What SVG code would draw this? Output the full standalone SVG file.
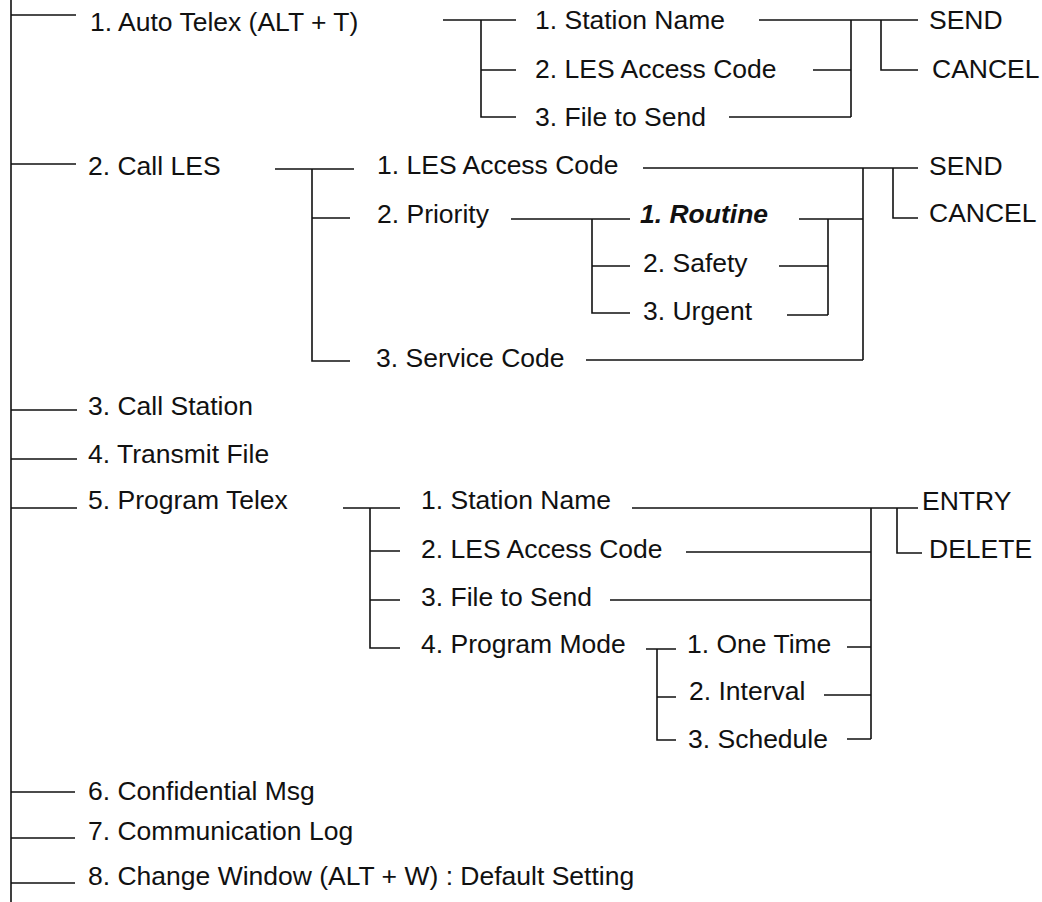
<svg xmlns="http://www.w3.org/2000/svg" width="1042" height="902" viewBox="0 0 1042 902">
<style>
.t{font-family:"Liberation Sans",Arial,sans-serif;font-size:26.5px;fill:#111}
.bi{font-weight:bold;font-style:italic}
.ln{fill:none;stroke:#111;stroke-width:1.6}
</style>
<rect width="1042" height="902" fill="#fff"/>
<g id="connectors">
<path class="ln" d="M11 0V902 M11 15H76 M11 164H76 M11 410H77 M11 459H77 M11 508H77 M11 792H75 M11 838H75 M11 883H75
M443 20H516 M481 20V117H516 M481 70H516
M759 20H918 M813 70H851 M729 117H851 M851 20V117 M881 20V70H918
M275 169H354 M312 169V361H350 M312 218H350
M643 168H918 M863 168V360 M893 168V218H918
M511 219H630 M592 219V313H630 M592 266H630
M799 219H863 M828 219V315 M779 266H828 M787 315H828
M586 360H863
M343 508H400 M370 508V648H400 M370 551H400 M370 600H400
M632 508H918 M686 552H871 M610 600H871 M871 508V739 M897 508V553H922
M646 649H676 M657 649V740H676 M657 697H676
M847 647H871 M824 695H871 M847 739H871"/>
</g>
<g id="auto-telex"><text class="t" x="90" y="31">1. Auto Telex (ALT + T)</text></g>
<g id="at-station-name"><text class="t" x="535" y="29">1. Station Name</text></g>
<g id="at-les-access-code"><text class="t" x="535" y="78">2. LES Access Code</text></g>
<g id="at-file-to-send"><text class="t" x="535" y="126">3. File to Send</text></g>
<g id="at-send"><text class="t" x="929" y="29">SEND</text></g>
<g id="at-cancel"><text class="t" x="932" y="78">CANCEL</text></g>
<g id="call-les"><text class="t" x="88" y="175">2. Call LES</text></g>
<g id="cl-les-access-code"><text class="t" x="377" y="174">1. LES Access Code</text></g>
<g id="cl-priority"><text class="t" x="377" y="223">2. Priority</text></g>
<g id="cl-service-code"><text class="t" x="376" y="367">3. Service Code</text></g>
<g id="pr-routine"><text class="t bi" x="640" y="223">1. Routine</text></g>
<g id="pr-safety"><text class="t" x="643" y="272">2. Safety</text></g>
<g id="pr-urgent"><text class="t" x="643" y="320">3. Urgent</text></g>
<g id="cl-send"><text class="t" x="929" y="175">SEND</text></g>
<g id="cl-cancel"><text class="t" x="929" y="222">CANCEL</text></g>
<g id="call-station"><text class="t" x="88" y="415">3. Call Station</text></g>
<g id="transmit-file"><text class="t" x="88" y="463">4. Transmit File</text></g>
<g id="program-telex"><text class="t" x="88" y="509">5. Program Telex</text></g>
<g id="pt-station-name"><text class="t" x="421" y="509">1. Station Name</text></g>
<g id="pt-les-access-code"><text class="t" x="421" y="558">2. LES Access Code</text></g>
<g id="pt-file-to-send"><text class="t" x="421" y="606">3. File to Send</text></g>
<g id="pt-program-mode"><text class="t" x="421" y="653">4. Program Mode</text></g>
<g id="pm-one-time"><text class="t" x="687" y="653">1. One Time</text></g>
<g id="pm-interval"><text class="t" x="689" y="700">2. Interval</text></g>
<g id="pm-schedule"><text class="t" x="688" y="748">3. Schedule</text></g>
<g id="pt-entry"><text class="t" x="922" y="510">ENTRY</text></g>
<g id="pt-delete"><text class="t" x="929" y="558">DELETE</text></g>
<g id="confidential-msg"><text class="t" x="88" y="800">6. Confidential Msg</text></g>
<g id="communication-log"><text class="t" x="88" y="840">7. Communication Log</text></g>
<g id="change-window"><text class="t" x="88" y="885">8. Change Window (ALT + W) : Default Setting</text></g>
</svg>
